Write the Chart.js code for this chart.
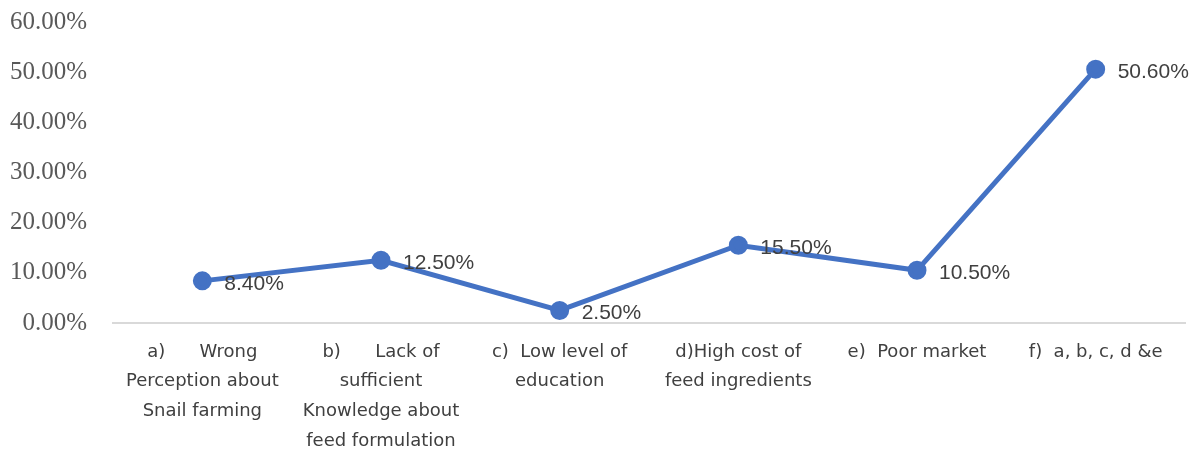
<!DOCTYPE html>
<html><head><meta charset="utf-8">
<script src="https://cdn.jsdelivr.net/npm/chart.js@4"></script>
<style>html,body{margin:0;padding:0;background:#fff}#wrap{width:1197px;height:455px}</style>
</head><body><div id="wrap"><canvas id="c" width="1197" height="455"></canvas></div>
<script>
const categories = [
  ["a)      Wrong", "Perception about", "Snail farming"],
  ["b)      Lack of", "sufficient", "Knowledge about", "feed formulation"],
  ["c)  Low level of", "education"],
  ["d)High cost of", "feed ingredients"],
  ["e)  Poor market"],
  ["f)  a, b, c, d &e"]
];
const values = [8.4, 12.5, 2.5, 15.5, 10.5, 50.6];
const yTicks = [0, 10, 20, 30, 40, 50, 60];

const labelPlugin = {
  id: 'pointLabels',
  afterDatasetsDraw(chart) {
    const ctx = chart.ctx;
    const meta = chart.getDatasetMeta(0);
    ctx.save();
    ctx.font = '21px "Liberation Sans", Arial, sans-serif';
    ctx.fillStyle = '#404040';
    ctx.textAlign = 'left';
    ctx.textBaseline = 'middle';
    meta.data.forEach((pt, i) => {
      ctx.fillText(values[i].toFixed(2) + '%', pt.x + 22, pt.y + 3);
    });
    ctx.restore();
  }
};

new Chart(document.getElementById('c'), {
  type: 'line',
  data: {
    labels: categories,
    datasets: [{
      data: values,
      borderColor: '#4472C4',
      backgroundColor: '#4472C4',
      borderWidth: 5,
      pointRadius: 7,
      pointHoverRadius: 7,
      pointBackgroundColor: '#4472C4',
      pointBorderColor: '#4472C4',
      tension: 0
    }]
  },
  options: {
    responsive: false,
    animation: false,
    events: [],
    layout: { padding: { top: 22, right: 10, left: 0, bottom: 0 } },
    plugins: { legend: { display: false }, tooltip: { enabled: false } },
    scales: {
      x: {
        offset: true,
        grid: { display: false, drawTicks: false },
        border: { display: true, color: '#d9d9d9', width: 2 },
        ticks: {
          maxRotation: 0, autoSkip: false, padding: 14,
          color: '#404040',
          font: { family: '"DejaVu Sans", sans-serif', size: 18, lineHeight: 1.65 }
        },
        afterFit(s) { s.height = 132; s.paddingLeft = 0; s.paddingRight = 0; }
      },
      y: {
        min: 0, max: 60,
        afterBuildTicks(s) { s.ticks = yTicks.map(v => ({ value: v })); },
        grid: { display: false, drawTicks: false },
        border: { display: false },
        ticks: {
          padding: 26,
          color: '#595959',
          font: { family: '"Liberation Serif", "Times New Roman", serif', size: 25 },
          callback: v => v.toFixed(2) + '%'
        },
        afterFit(s) { s.width = 113; s.paddingTop = 0; s.paddingBottom = 0; }
      }
    }
  },
  plugins: [labelPlugin]
});
</script>
</body></html>
